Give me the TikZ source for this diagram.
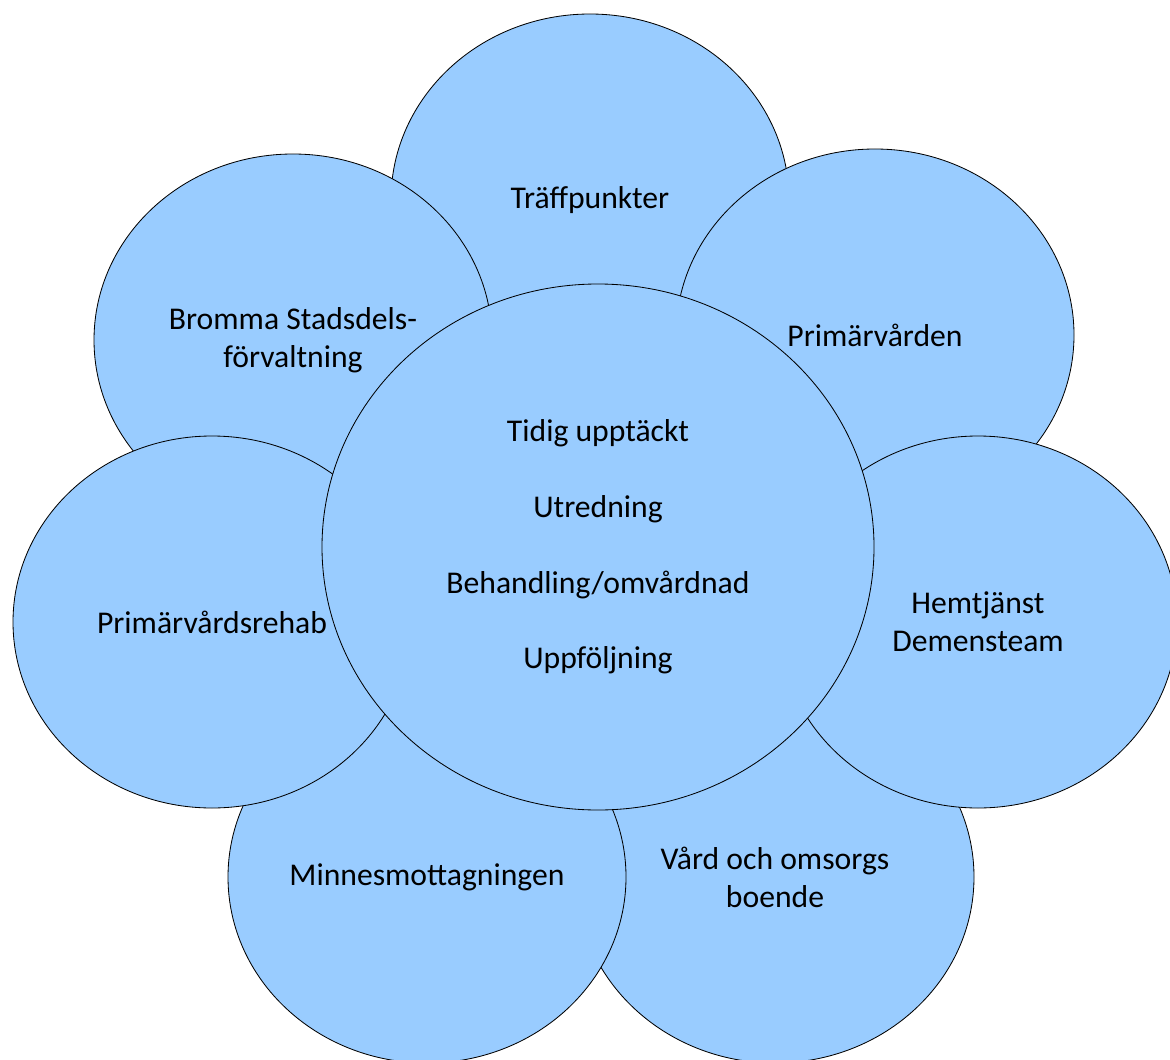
\documentclass[tikz,border=0pt]{standalone}
\usepackage{fontspec}
\setmainfont{Carlito}
\usetikzlibrary{shapes.geometric}
\definecolor{bubble}{HTML}{99CCFF}

\begin{document}
\begin{tikzpicture}[x=0.6pt,y=-0.6pt,
  blob/.style={ellipse,draw,line width=0.5pt,fill=bubble,inner sep=0pt,align=center,
    minimum width=2*\rx*0.6pt,minimum height=2*\ry*0.6pt,
    font=\fontsize{19}{22.7}\selectfont},
  hub/.style={blob,minimum width=552*0.6pt,minimum height=526*0.6pt}]
  \def\rx {199}
  \def\ry {186}

  \useasboundingbox (0,0) rectangle (1170,1059);

  % outer ring, back to front
  \node[blob] (traff) at (590,200) {Träffpunkter};
  \node[blob] (bromma) at (293,340) {Bromma Stadsdels-\\förvaltning};
  \node[blob] (primar) at (875,335) {Primärvården};
  \node[blob] (vard) at (775,877) {Vård och omsorgs\\boende};
  \node[blob] (minnes) at (427,877) {Minnesmottagningen};
  \node[blob] (rehab) at (212,622) {Primärvårdsrehab};
  \node[blob] (hemtj) at (978,622) {Hemtjänst\\Demensteam};

  % middle
  \node[hub] (tidig) at (598,547)
    {Tidig upptäckt\\[22.7pt]Utredning\\[22.7pt]Behandling/omvårdnad\\[22.7pt]Uppföljning};

\end{tikzpicture}
\end{document}
